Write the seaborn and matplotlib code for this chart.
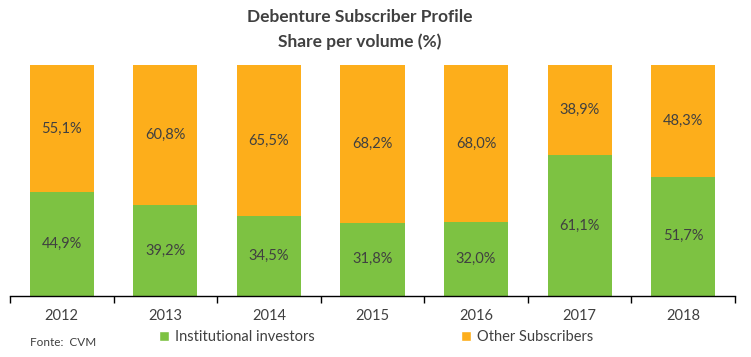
import pandas as pd
import matplotlib
matplotlib.use("Agg")
import matplotlib.pyplot as plt
import seaborn as sns
from matplotlib.patches import Patch

# data
years = ["2012", "2013", "2014", "2015", "2016", "2017", "2018"]
institutional = [44.9, 39.2, 34.5, 31.8, 32.0, 61.1, 51.7]
other = [55.1, 60.8, 65.5, 68.2, 68.0, 38.9, 48.3]

green = "#7dc242"
orange = "#fdae1b"
txt = "#404040"

sns.set_theme(style="white")
plt.rcParams["font.family"] = ["Lato", "DejaVu Sans"]

df = pd.DataFrame({"year": years, "inst": institutional, "other": other})
df["total"] = df["inst"] + df["other"]

fig = plt.figure(figsize=(7.51, 3.57), dpi=100)
ax = fig.add_axes([10 / 751, 61 / 357, 725 / 751, 231 / 357])

# stacked: total (orange) behind, institutional (green) in front
sns.barplot(data=df, x="year", y="total", color=orange, width=0.62,
            saturation=1, linewidth=0, ax=ax)
sns.barplot(data=df, x="year", y="inst", color=green, width=0.62,
            saturation=1, linewidth=0, ax=ax)

for i, row in df.iterrows():
    ax.text(i, row["inst"] / 2, f"{row['inst']:.1f}%".replace(".", ","),
            ha="center", va="center", fontsize=10.5, color=txt)
    ax.text(i, row["inst"] + row["other"] / 2,
            f"{row['other']:.1f}%".replace(".", ","),
            ha="center", va="center", fontsize=10.5, color=txt)

ax.set_xlim(-0.5, len(years) - 0.5)
ax.set_ylim(0, 100)
ax.set_xlabel("")
ax.set_ylabel("")
ax.set_yticks([])
for s in ["top", "right", "left"]:
    ax.spines[s].set_visible(False)
ax.spines["bottom"].set_color("black")
ax.spines["bottom"].set_linewidth(1)

# year labels centred, tick marks on the category boundaries
ax.set_xticks(range(len(years)))
ax.set_xticklabels(years, fontsize=10.5, color=txt)
ax.tick_params(axis="x", length=0, pad=9)
ax.set_xticks([i - 0.5 for i in range(len(years) + 1)], minor=True)
ax.tick_params(axis="x", which="minor", length=5, width=1, color="black",
               bottom=True)

fig.text(360 / 751, 1 - 17 / 357, "Debenture Subscriber Profile",
         ha="center", va="center", fontsize=12.5, fontweight="bold", color=txt)
fig.text(360 / 751, 1 - 42 / 357, "Share per volume (%)",
         ha="center", va="center", fontsize=12.5, fontweight="bold", color=txt)

handles = [Patch(facecolor=green, label="Institutional investors"),
           Patch(facecolor=orange, label="Other Subscribers")]
leg = fig.legend(handles=handles, loc="center", ncol=2,
                 bbox_to_anchor=(376 / 751, 1 - 337 / 357), frameon=False,
                 fontsize=10.5, handlelength=0.7, handleheight=0.7,
                 handletextpad=0.4, columnspacing=10)
for t in leg.get_texts():
    t.set_color(txt)

fig.text(30 / 751, 1 - 343 / 357, "Fonte:  CVM", ha="left", va="center",
         fontsize=8.5, color=txt)

fig.savefig("out.png", dpi=100)
